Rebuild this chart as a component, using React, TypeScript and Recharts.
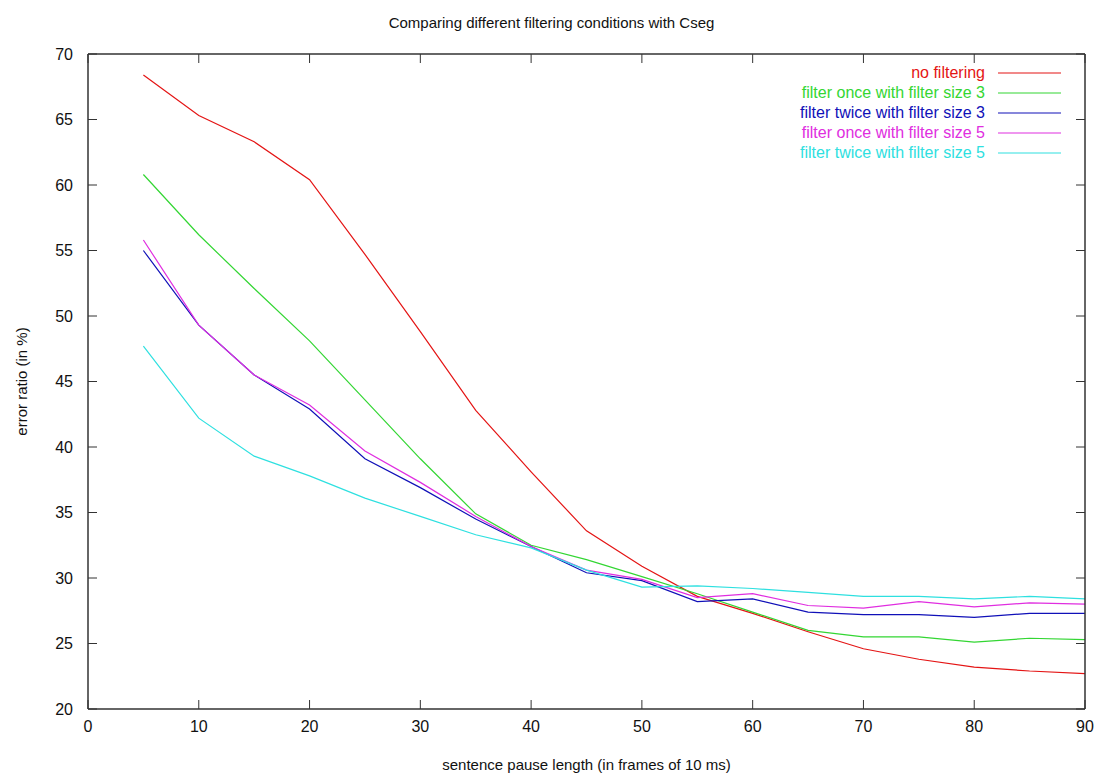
import { LineChart, Line, XAxis, YAxis, Label } from "recharts";

const pauseLengths = [5, 10, 15, 20, 25, 30, 35, 40, 45, 50, 55, 60, 65, 70, 75, 80, 85, 90];

const noFiltering = [68.4, 65.3, 63.3, 60.4, 54.7, 48.8, 42.8, 38.1, 33.6, 30.9, 28.6, 27.3, 25.9, 24.6, 23.8, 23.2, 22.9, 22.7];
const onceSize3 = [60.8, 56.2, 52.1, 48.1, 43.6, 39.1, 34.9, 32.5, 31.4, 30.1, 28.8, 27.4, 26.0, 25.5, 25.5, 25.1, 25.4, 25.3];
const twiceSize3 = [55.0, 49.3, 45.5, 42.9, 39.1, 36.9, 34.5, 32.4, 30.4, 29.8, 28.2, 28.4, 27.4, 27.2, 27.2, 27.0, 27.3, 27.3];
const onceSize5 = [55.8, 49.3, 45.5, 43.2, 39.7, 37.3, 34.7, 32.4, 30.6, 29.9, 28.5, 28.8, 27.9, 27.7, 28.2, 27.8, 28.1, 28.0];
const twiceSize5 = [47.7, 42.2, 39.3, 37.8, 36.1, 34.7, 33.3, 32.3, 30.6, 29.3, 29.4, 29.2, 28.9, 28.6, 28.6, 28.4, 28.6, 28.4];

const xTicks = [0, 10, 20, 30, 40, 50, 60, 70, 80, 90];
const yTicks = [20, 25, 30, 35, 40, 45, 50, 55, 60, 65, 70];

const series = [
  { key: "raw", name: "no filtering", color: "#e41414", values: noFiltering },
  { key: "once3", name: "filter once with filter size 3", color: "#33d633", values: onceSize3 },
  { key: "twice3", name: "filter twice with filter size 3", color: "#1010b8", values: twiceSize3 },
  { key: "once5", name: "filter once with filter size 5", color: "#e02ee0", values: onceSize5 },
  { key: "twice5", name: "filter twice with filter size 5", color: "#2ee0e0", values: twiceSize5 },
];

const chartData = pauseLengths.map((x, i) => {
  const row: Record<string, number> = { x };
  series.forEach((s) => {
    row[s.key] = s.values[i];
  });
  return row;
});

const FONT = '"Liberation Sans", Arial, sans-serif';
const tickStyle = { fill: "#111", fontSize: 16, fontFamily: FONT };
const frameLine = { stroke: "#333", strokeWidth: 1.5 };

function GnuLegend() {
  return (
    <div
      style={{
        position: "absolute",
        top: 63,
        right: 42,
        fontFamily: FONT,
        fontSize: 16,
        lineHeight: "20px",
      }}
    >
      {series.map((s) => (
        <div key={s.key} style={{ display: "flex", alignItems: "center", justifyContent: "flex-end", height: 20 }}>
          <span style={{ color: s.color }}>{s.name}</span>
          <svg width={63} height={4} style={{ marginLeft: 13, display: "block" }}>
            <line x1={0} x2={63} y1={2} y2={2} stroke={s.color} strokeWidth={1.2} />
          </svg>
        </div>
      ))}
    </div>
  );
}

export default function App() {
  return (
    <div style={{ position: "relative", width: 1103, height: 776, background: "#fff" }}>
      <style>{"body{margin:0}"}</style>
      <div
        style={{
          position: "absolute",
          top: 14,
          left: 0,
          width: 1103,
          textAlign: "center",
          fontFamily: FONT,
          fontSize: 15,
          color: "#111",
        }}
      >
        Comparing different filtering conditions with Cseg
      </div>
      <LineChart width={1103} height={776} data={chartData} margin={{ top: 53, right: 17, bottom: 0, left: 0 }}>
        <XAxis
          dataKey="x"
          type="number"
          domain={[0, 90]}
          ticks={xTicks}
          height={67}
          tickSize={-9}
          tickMargin={21}
          tick={tickStyle}
          stroke="#333"
          axisLine={frameLine}
        >
          <Label
            value="sentence pause length (in frames of 10 ms)"
            position="insideBottom"
            offset={6}
            style={{ fill: "#111", fontSize: 15, fontFamily: FONT }}
          />
        </XAxis>
        <XAxis
          xAxisId="top"
          dataKey="x"
          orientation="top"
          type="number"
          domain={[0, 90]}
          ticks={xTicks}
          height={1}
          tickSize={-9}
          tickMargin={0}
          tickFormatter={() => ""}
          stroke="#333"
          axisLine={frameLine}
        />
        <YAxis
          type="number"
          domain={[20, 70]}
          ticks={yTicks}
          width={88}
          tickSize={-9}
          tickMargin={24}
          tick={tickStyle}
          stroke="#333"
          axisLine={frameLine}
        >
          <Label
            value="error ratio (in %)"
            angle={-90}
            position="insideLeft"
            offset={22}
            textAnchor="middle"
            style={{ fill: "#111", fontSize: 15, fontFamily: FONT, textAnchor: "middle" }}
          />
        </YAxis>
        <YAxis
          yAxisId="right"
          orientation="right"
          type="number"
          domain={[20, 70]}
          ticks={yTicks}
          width={1}
          tickSize={-9}
          tickMargin={0}
          tickFormatter={() => ""}
          stroke="#333"
          axisLine={frameLine}
        />
        {/* invisible copy so the mirrored frame axes have a series bound to them */}
        <Line
          xAxisId="top"
          yAxisId="right"
          dataKey="raw"
          stroke="none"
          dot={false}
          activeDot={false}
          legendType="none"
          isAnimationActive={false}
        />
        {series.map((s) => (
          <Line
            key={s.key}
            dataKey={s.key}
            name={s.name}
            stroke={s.color}
            strokeWidth={1.2}
            dot={false}
            isAnimationActive={false}
          />
        ))}
      </LineChart>
      <GnuLegend />
    </div>
  );
}
